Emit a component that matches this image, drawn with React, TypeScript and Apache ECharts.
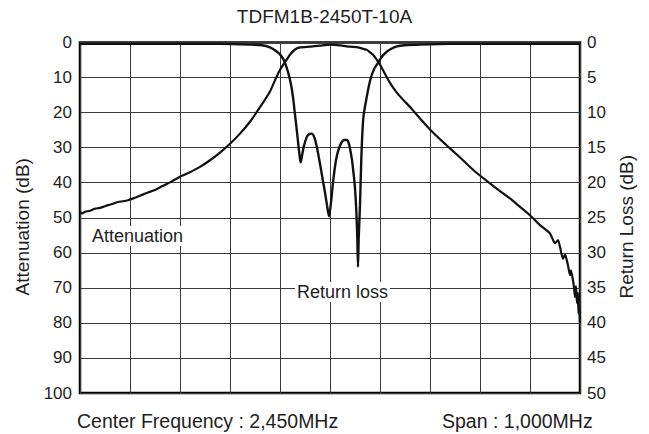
import React, { useEffect, useRef } from "react";
import * as echarts from "echarts";

// Frequency offsets from the 2,450 MHz centre (MHz), span 1,000 MHz
const attenFreq = [
  -500, -496, -490, -480, -470, -460, -452, -444, -434, -424, -414, -404, -392, -378, -364, -350, -336,
  -320, -300, -280, -260, -240, -220, -200, -180, -160, -144, -130, -120, -110, -100, -90, -80, -70,
  -60, -40, -20, 0, 20, 40, 56, 66, 74, 80, 86, 92, 100, 110, 120, 132, 146, 160, 180, 200, 220, 240,
  266, 290, 320, 340, 360, 380, 400, 420, 440, 450, 456, 460, 466, 470, 474, 476, 480, 482, 486, 488,
  490, 492, 494, 496, 497, 498, 500,
];
const attenDb = [
  48.3, 48.8, 48.3, 48.0, 47.4, 47.2, 46.8, 46.4, 46.0, 45.5, 45.3, 45.0, 44.4, 43.6, 42.8, 42.1, 41.0,
  39.9, 38.3, 37.0, 35.5, 33.6, 31.4, 28.9, 26.0, 22.6, 19.3, 16.3, 14.0, 10.8, 7.8, 5.6, 3.5, 2.0,
  1.4, 1.2, 0.9, 0.6, 0.8, 1.2, 1.4, 1.8, 2.1, 2.8, 3.5, 4.6, 6.3, 9.0, 11.5, 14.0, 16.3, 18.4, 21.7,
  24.8, 27.6, 30.2, 33.6, 36.8, 40.2, 42.4, 44.5, 46.9, 49.3, 52.1, 54.5, 57.3, 56.4, 58.3, 61.7, 60.5,
  62.3, 63.6, 66.4, 65.0, 67.9, 70.0, 72.6, 69.5, 74.4, 71.5, 77.3, 73.5, 80.0,
];

const rlFreq = [
  -500, -360, -220, -160, -136, -120, -108, -100, -94, -90, -84, -78, -74, -70, -66, -63, -60, -58.6,
  -56, -53, -46.6, -42, -36.6, -31, -26, -20, -14, -10, -6, -2, 2, 6.6, 12, 16.6, 22, 28, 33.4, 38,
  43.4, 47, 50, 52.6, 54.6, 56, 57.4, 60, 62, 64, 67, 73.4, 80, 88, 96, 104, 112, 120, 132, 150, 180,
  240, 500,
];
const rlDb = [
  0.2, 0.2, 0.2, 0.3, 0.4, 0.7, 1.2, 1.7, 2.3, 2.9, 4.2, 6.0, 7.8, 10.3, 12.8, 14.8, 16.6, 17.1, 16.2,
  15.0, 13.5, 13.1, 13.0, 13.6, 15.0, 17.3, 19.8, 21.4, 23.2, 24.8, 22.8, 19.6, 16.8, 15.4, 14.4, 13.9,
  13.9, 14.5, 16.5, 18.6, 20.8, 24.0, 27.9, 32.0, 27.9, 23.2, 18.0, 14.0, 10.5, 7.8, 5.5, 3.8, 2.9,
  2.0, 1.4, 1.0, 0.6, 0.4, 0.3, 0.2, 0.2,
];

const attenTicks = { min: 0, max: 100, interval: 10 };
const rlTicks = { min: 0, max: 50, interval: 5 };
const freqTicks = { min: -500, max: 500, interval: 100 };

const FONT = "Liberation Sans, Arial, Helvetica, sans-serif";
const TEXT = "#1e1e1e";

export default function App() {
  const ref = useRef<HTMLDivElement>(null);

  useEffect(() => {
    if (!ref.current) return;
    document.body.style.margin = "0";
    document.body.style.overflow = "hidden";
    const chart = echarts.init(ref.current, null, { renderer: "svg" });
    const attenData = attenFreq.map((f, i) => [f, attenDb[i]]);
    const rlData = rlFreq.map((f, i) => [f, rlDb[i]]);

    chart.setOption({
      animation: false,
      backgroundColor: "#fff",
      textStyle: { fontFamily: FONT, color: TEXT },
      grid: {
        left: 80,
        right: 69,
        top: 42.5,
        bottom: 41,
        show: true,
        borderColor: "#000",
        borderWidth: 2.5,
        backgroundColor: "transparent",
      },
      xAxis: {
        type: "value",
        min: freqTicks.min,
        max: freqTicks.max,
        interval: freqTicks.interval,
        axisLine: { show: false },
        axisTick: { show: false },
        axisLabel: { show: false },
        splitLine: { show: true, lineStyle: { color: "#3a3a3a", width: 1 } },
      },
      yAxis: [
        {
          type: "value",
          inverse: true,
          min: attenTicks.min,
          max: attenTicks.max,
          interval: attenTicks.interval,
          position: "left",
          name: "Attenuation (dB)",
          nameLocation: "middle",
          nameRotate: 90,
          nameGap: 48,
          nameTextStyle: { fontSize: 19, color: TEXT, fontFamily: FONT, padding: [0, 18, 0, 0] },
          axisLine: { show: false },
          axisTick: { show: false },
          axisLabel: { fontSize: 17, color: TEXT, margin: 8, fontFamily: FONT },
          splitLine: { show: true, lineStyle: { color: "#3a3a3a", width: 1 } },
        },
        {
          type: "value",
          inverse: true,
          min: rlTicks.min,
          max: rlTicks.max,
          interval: rlTicks.interval,
          position: "right",
          name: "Return Loss (dB)",
          nameLocation: "middle",
          nameRotate: 90,
          nameGap: 36,
          nameTextStyle: { fontSize: 19, color: TEXT, fontFamily: FONT, padding: [0, 18, 0, 0] },
          axisLine: { show: false },
          axisTick: { show: false },
          axisLabel: { fontSize: 17, color: TEXT, margin: 7, fontFamily: FONT },
          splitLine: { show: false },
        },
      ],
      series: [
        {
          name: "Attenuation",
          type: "line",
          yAxisIndex: 0,
          data: attenData,
          showSymbol: false,
          smooth: 0.2,
          lineStyle: { color: "#111", width: 2.2 },
          z: 3,
        },
        {
          name: "Return loss",
          type: "line",
          yAxisIndex: 1,
          data: rlData,
          showSymbol: false,
          smooth: 0.25,
          lineStyle: { color: "#111", width: 2.4 },
          z: 3,
        },
      ],
      graphic: [
        {
          type: "text",
          left: "center",
          top: 7,
          style: { text: "TDFM1B-2450T-10A", fontSize: 19, fill: TEXT, fontFamily: FONT },
        },
        {
          type: "text",
          x: 90,
          y: 236,
          z: 10,
          style: {
            text: "Attenuation",
            fontSize: 18,
            fill: TEXT,
            fontFamily: FONT,
            verticalAlign: "middle",
            backgroundColor: "#fff",
            padding: [1, 2, 1, 2],
          },
        },
        {
          type: "text",
          x: 295,
          y: 292,
          z: 10,
          style: {
            text: "Return loss",
            fontSize: 18,
            fill: TEXT,
            fontFamily: FONT,
            verticalAlign: "middle",
            backgroundColor: "#fff",
            padding: [1, 2, 1, 2],
          },
        },
        {
          type: "text",
          x: 77,
          y: 421,
          style: {
            text: "Center Frequency : 2,450MHz",
            fontSize: 19.5,
            fill: TEXT,
            fontFamily: FONT,
            verticalAlign: "middle",
          },
        },
        {
          type: "text",
          x: 442,
          y: 421,
          style: {
            text: "Span : 1,000MHz",
            fontSize: 19.5,
            fill: TEXT,
            fontFamily: FONT,
            verticalAlign: "middle",
          },
        },
      ],
    });

    return () => chart.dispose();
  }, []);

  return (
    <div
      ref={ref}
      style={{ position: "absolute", left: 0, top: 0, width: 649, height: 434 }}
    />
  );
}
